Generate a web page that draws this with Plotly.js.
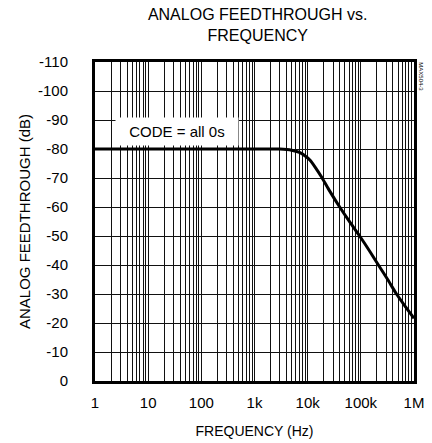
<!DOCTYPE html>
<html>
<head>
<meta charset="utf-8">
<script src="https://cdn.plot.ly/plotly-3.0.1.min.js"></script>
<style>html,body{margin:0;padding:0;background:#fff;}</style>
</head>
<body>
<div id="chart" style="width:432px;height:443px;"></div>
<script>
// Frequency (Hz) and analog feedthrough (dB)
const frequencyHz = [1, 10, 100, 1000, 3000, 5000, 7000, 9000, 11000, 14000, 18000, 25000, 40000, 60000, 95000, 150000, 214000, 320000, 468000, 700000, 1000000];
const feedthroughDb = [-80, -80, -80, -80, -80, -79.6, -78.8, -77.6, -76.2, -73.6, -70.5, -66, -60, -55.2, -50, -44.5, -40, -35, -30, -25.5, -21.6];

const xMajorVals = [1, 10, 100, 1000, 10000, 100000, 1000000];
const xMajorText = ['1', '10', '100', '1k', '10k', '100k', '1M'];
const yTickVals = [0, -10, -20, -30, -40, -50, -60, -70, -80, -90, -100, -110];
const yTickText = ['0', '-10', '-20', '-30', '-40', '-50', '-60', '-70', '-80', '-90', '-100', '-110'];

const titleText = 'ANALOG FEEDTHROUGH vs.<br>FREQUENCY';
const xTitleText = 'FREQUENCY (Hz)';
const yTitleText = 'ANALOG FEEDTHROUGH (dB)';
const codeLabel = 'CODE = all 0s';
const partLabel = 'MAX504-3';

// build full log grid (1..9 per decade) from the major values
const xGridVals = [];
const xGridText = [];
xMajorVals.forEach((v, i) => {
  xGridVals.push(v); xGridText.push(xMajorText[i]);
  if (i < xMajorVals.length - 1) {
    for (let k = 2; k <= 9; k++) { xGridVals.push(v * k); xGridText.push(''); }
  }
});

const regular = "'Liberation Sans', Arial, sans-serif";

const trace = {
  x: frequencyHz,
  y: feedthroughDb,
  type: 'scatter',
  mode: 'lines',
  line: {color: '#000', width: 3, shape: 'spline', smoothing: 0.6},
  hoverinfo: 'skip'
};

const layout = {
  width: 432,
  height: 443,
  margin: {l: 95, r: 18, t: 62, b: 62},
  paper_bgcolor: '#fff',
  plot_bgcolor: '#fff',
  showlegend: false,
  font: {family: regular, color: '#000', size: 15},
  title: {
    text: titleText,
    font: {family: regular, size: 16, color: '#000'},
    xref: 'paper', x: 0.51, xanchor: 'center',
    yref: 'container', y: 0.955, yanchor: 'middle'
  },
  xaxis: {
    type: 'log',
    range: [0, 6],
    tickmode: 'array',
    tickvals: xGridVals,
    ticktext: xGridText,
    showgrid: true,
    gridcolor: '#111',
    gridwidth: 1,
    zeroline: false,
    showline: true,
    linecolor: '#000',
    linewidth: 3,
    mirror: true,
    ticks: '',
    ticklabelstandoff: 6,
    tickfont: {family: regular, size: 15},
    title: {text: xTitleText, font: {family: regular, size: 14}, standoff: 17}
  },
  yaxis: {
    range: [0, -110],
    tickmode: 'array',
    tickvals: yTickVals,
    ticktext: yTickText,
    showgrid: true,
    gridcolor: '#111',
    gridwidth: 1,
    zeroline: false,
    showline: true,
    linecolor: '#000',
    linewidth: 3,
    mirror: true,
    ticks: '',
    ticklabelstandoff: 21,
    tickfont: {family: regular, size: 15},
    title: {text: yTitleText, font: {family: regular, size: 15}, standoff: 4}
  },
  annotations: [
    {
      text: codeLabel,
      xref: 'x', yref: 'y',
      x: 1.54, y: -86.2,
      showarrow: false,
      bgcolor: '#fff',
      width: 120, height: 25,
      font: {family: regular, size: 15, color: '#000'}
    },
    {
      text: partLabel,
      xref: 'paper', yref: 'paper',
      x: 1.0, y: 0.955,
      xshift: 12,
      yanchor: 'middle',
      showarrow: false,
      textangle: 90,
      font: {family: regular, size: 6, color: '#000'}
    }
  ]
};

Plotly.newPlot('chart', [trace], layout, {displayModeBar: false, staticPlot: true});
</script>
</body>
</html>
